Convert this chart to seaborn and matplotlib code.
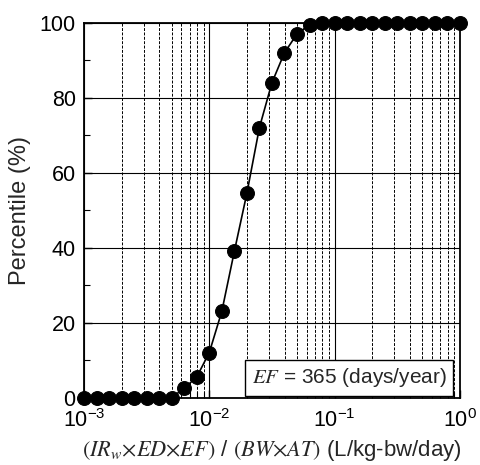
import numpy as np
import pandas as pd
import matplotlib
matplotlib.use("Agg")
import matplotlib.pyplot as plt
from matplotlib.ticker import LogLocator, MultipleLocator, NullFormatter
import seaborn as sns

# Intake rate grid (0.1-decade steps) and cumulative percentile
intake = [10 ** (-3 + 0.1 * k) for k in range(31)]
percentile = [0, 0, 0, 0, 0, 0, 0, 0, 2.5, 5.5, 12, 23, 39, 54.5, 72, 84,
              92, 97, 99.5, 100, 100, 100, 100, 100, 100, 100, 100, 100,
              100, 100, 100]
y_ticks = [0, 20, 40, 60, 80, 100]
x_label = r"$(IR_w{\times}ED{\times}EF)$ / $(BW{\times}AT)$ (L/kg-bw/day)"
y_label = "Percentile (%)"
note = r"$EF$ = 365 (days/year)"

df = pd.DataFrame({"intake": intake, "percentile": percentile})

sns.set_style("ticks")
plt.rcParams["font.family"] = ["Liberation Sans", "DejaVu Sans"]
plt.rcParams["mathtext.fontset"] = "stix"

fig = plt.figure(figsize=(4.8, 4.65), dpi=100)
ax = fig.add_axes([0.175, 0.145, 0.783, 0.806])

sns.lineplot(data=df, x="intake", y="percentile", ax=ax, color="black",
             linewidth=1.2, marker="o", markersize=10,
             markeredgecolor="black", markerfacecolor="black", clip_on=False,
             zorder=5)

ax.set_xscale("log")
ax.set_xlim(1e-3, 1)
ax.set_ylim(0, 100)
ax.set_yticks(y_ticks)
ax.yaxis.set_minor_locator(MultipleLocator(10))
ax.xaxis.set_major_locator(LogLocator(base=10))
ax.xaxis.set_minor_locator(LogLocator(base=10, subs=np.arange(2, 10)))
ax.xaxis.set_minor_formatter(NullFormatter())

# Solid grid at decades / major percentiles, dashed at minor decades
ax.grid(True, which="major", axis="both", color="black", linewidth=0.8,
        linestyle="-")
ax.grid(True, which="minor", axis="x", color="black", linewidth=0.7,
        linestyle=(0, (3, 1.5)))
ax.set_axisbelow(True)

for s in ax.spines.values():
    s.set_linewidth(1.3)
    s.set_color("black")

ax.tick_params(which="both", direction="in", top=False, right=False,
               labelsize=15.5, colors="black")
ax.tick_params(which="major", length=6, width=1.0, pad=6)
ax.tick_params(axis="x", which="major", pad=8.5)
ax.tick_params(which="minor", length=4, width=0.8)

ax.set_xlabel(x_label, fontsize=16, labelpad=4)
ax.set_ylabel(y_label, fontsize=17, labelpad=6)

ax.text(0.965, 0.022, note, transform=ax.transAxes, ha="right",
        va="bottom", fontsize=15, zorder=6,
        bbox=dict(boxstyle="square,pad=0.3", facecolor="white",
                  edgecolor="black", linewidth=1.0))

fig.savefig("out.png", dpi=100)
